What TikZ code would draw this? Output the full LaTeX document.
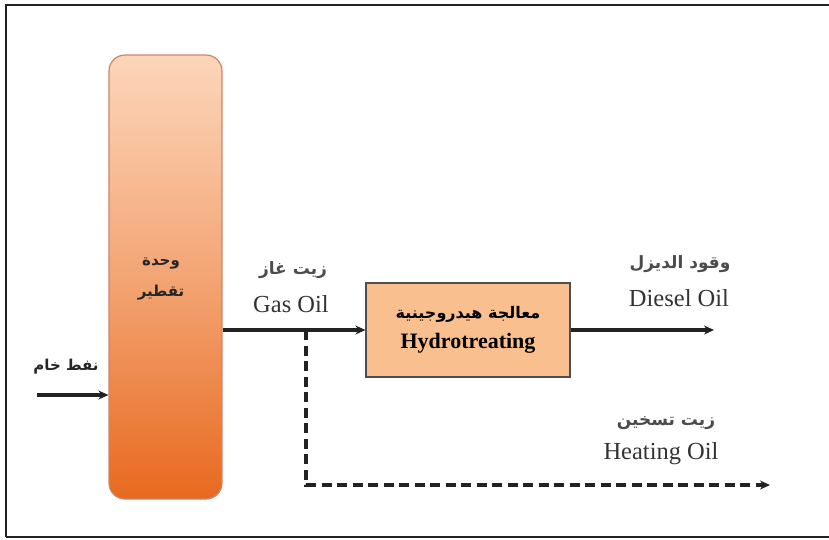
\documentclass[tikz,border=0pt]{standalone}
\usepackage{fontspec}
\setmainfont{Liberation Serif}
\newfontfamily\arabicfont[Script=Arabic]{DejaVu Sans}
\TeXXeTstate=1
\usetikzlibrary{arrows.meta}
\definecolor{colTop}{HTML}{FCD6BA}
\definecolor{colBot}{HTML}{E8691F}
\definecolor{colEdge}{HTML}{D08468}
\definecolor{boxFill}{HTML}{F9BF8F}
\definecolor{lineGray}{HTML}{222222}
\tikzset{
  flow/.style={draw=lineGray, line width=3.2pt, -{Stealth[length=10pt,width=9pt]}},
  dflow/.style={draw=lineGray, line width=3.2pt, dash pattern=on 10pt off 5.5pt, -{Stealth[length=10pt,width=9pt]}},
  artxt/.style={font=\arabicfont\fontsize{15}{17}\selectfont\bfseries, text=black!85, inner sep=0pt},
  arlight/.style={font=\arabicfont\fontsize{17}{19}\selectfont\bfseries, text=black!70, inner sep=0pt},
  entxt/.style={font=\fontsize{24.5}{26}\selectfont, text=black!80, inner sep=0pt},
}
\begin{document}
\begin{tikzpicture}[x=1pt,y=-1pt]
\useasboundingbox (0,0) rectangle (829,539);
\fill[white] (0,0) rectangle (829,539);
% outer frame
\draw[lineGray, line width=2.4pt] (6,537) -- (6,5) -- (830,5);
\draw[lineGray, line width=2.4pt] (6,537) -- (830,537);

% distillation column
\node[draw=colEdge, line width=1.2pt, rounded corners=16pt, minimum width=113pt, minimum height=444pt,
      top color=colTop, bottom color=colBot, middle color=colTop!55!colBot, inner sep=0pt] (col) at (165.5,277) {};
\node[artxt, align=center] (colLbl1) at (161,263) {\beginR وحدة\endR};
\node[artxt, align=center] (colLbl2) at (161,293) {\beginR تقطير\endR};

% crude oil feed
\coordinate (feed) at (37,395);
\node[artxt] (crude) at (66,367) {\beginR نفط خام\endR};
\draw[flow] (feed) -- (col.west |- feed);

% hydrotreating unit
\node[draw=lineGray!80, line width=1.2pt, fill=boxFill, minimum width=204pt, minimum height=94pt,
      inner sep=0pt, align=center] (hyd) at (468,330)
  {{\arabicfont\fontsize{16}{18}\selectfont\bfseries\beginR معالجة هيدروجينية\endR}\\[10pt]
   {\fontsize{22}{24}\selectfont\bfseries Hydrotreating}};

% gas oil stream
\coordinate (go) at (col.east |- hyd.west);
\draw[flow] (go) -- (hyd.west);
\node[arlight] (goAr) at (293,270) {\beginR زيت غاز\endR};
\node[entxt] (goEn) at (291,304) {Gas Oil};

% diesel product
\coordinate (diesel) at (714,330);
\draw[flow] (hyd.east) -- (diesel);
\node[arlight] (dAr) at (680,264) {\beginR وقود الديزل\endR};
\node[entxt] (dEn) at (679,298) {Diesel Oil};

% heating oil bypass
\coordinate (split) at (306,330);
\coordinate (corner) at (306,485);
\coordinate (heat) at (770,485);
\draw[dflow] (split) -- (corner) -- (heat);
\node[arlight] (hAr) at (666,423) {\beginR زيت تسخين\endR};
\node[entxt] (hEn) at (661,454) {Heating Oil};
\end{tikzpicture}
\end{document}
